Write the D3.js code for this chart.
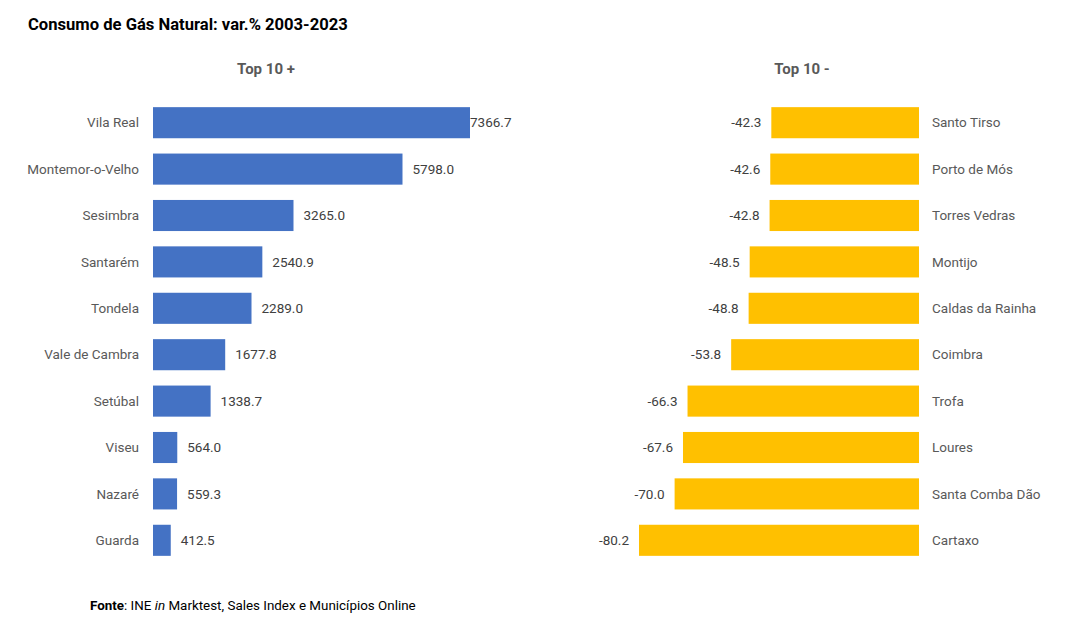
<!DOCTYPE html>
<html>
<head>
<meta charset="utf-8">
<script src="https://cdn.jsdelivr.net/npm/d3@7"></script>
<style>
body{margin:0;background:#fff;}
svg{display:block;font-family:Roboto,"Noto Sans",sans-serif;}
</style>
</head>
<body>
<svg id="chart" width="1068" height="628"></svg>
<script>
const topCategories = ["Vila Real","Montemor-o-Velho","Sesimbra","Santarém","Tondela","Vale de Cambra","Setúbal","Viseu","Nazaré","Guarda"];
const topValues = [7366.7,5798.0,3265.0,2540.9,2289.0,1677.8,1338.7,564.0,559.3,412.5];
const bottomCategories = ["Santo Tirso","Porto de Mós","Torres Vedras","Montijo","Caldas da Rainha","Coimbra","Trofa","Loures","Santa Comba Dão","Cartaxo"];
const bottomValues = [-42.3,-42.6,-42.8,-48.5,-48.8,-53.8,-66.3,-67.6,-70.0,-80.2];

const fmt = d => d3.format(".1f")(d).replace("\u2212","-");
const svg = d3.select("#chart");

svg.append("text").attr("x",28).attr("y",30)
  .attr("font-size",16.6).attr("font-weight","bold").attr("fill","#000")
  .text("Consumo de Gás Natural: var.% 2003-2023");

const y = d3.scaleBand().domain(d3.range(10)).range([99.5,563.5]).paddingInner(0.33).paddingOuter(0.165);

// Left panel
const xL = d3.scaleLinear().domain([0, d3.max(topValues)]).range([153,470]);
svg.append("text").attr("x",266).attr("y",74).attr("text-anchor","middle")
  .attr("font-size",15).attr("font-weight","bold").attr("fill","#595959").text("Top 10 +");
const gL = svg.append("g");
gL.selectAll("rect").data(topValues).join("rect")
  .attr("x",xL(0)).attr("y",(d,i)=>y(i)).attr("width",d=>xL(d)-xL(0)).attr("height",y.bandwidth())
  .attr("fill","#4472C4");
gL.selectAll("text.cat").data(topCategories).join("text").attr("class","cat")
  .attr("x",139).attr("y",(d,i)=>y(i)+y.bandwidth()/2).attr("dy","0.35em")
  .attr("text-anchor","end").attr("font-size",13.5).attr("fill","#595959").text(d=>d);
gL.selectAll("text.val").data(topValues).join("text").attr("class","val")
  .attr("x",(d,i)=> i===0 ? xL(d) : xL(d)+10).attr("y",(d,i)=>y(i)+y.bandwidth()/2).attr("dy","0.35em")
  .attr("font-size",13.5).attr("fill","#404040").text(fmt);

// Right panel
const xR = d3.scaleLinear().domain([d3.min(bottomValues),0]).range([639,919]);
svg.append("text").attr("x",802).attr("y",74).attr("text-anchor","middle")
  .attr("font-size",15).attr("font-weight","bold").attr("fill","#595959").text("Top 10 -");
const gR = svg.append("g");
gR.selectAll("rect").data(bottomValues).join("rect")
  .attr("x",d=>xR(d)).attr("y",(d,i)=>y(i)).attr("width",d=>xR(0)-xR(d)).attr("height",y.bandwidth())
  .attr("fill","#FFC000");
gR.selectAll("text.cat").data(bottomCategories).join("text").attr("class","cat")
  .attr("x",932).attr("y",(d,i)=>y(i)+y.bandwidth()/2).attr("dy","0.35em")
  .attr("font-size",13.5).attr("fill","#595959").text(d=>d);
gR.selectAll("text.val").data(bottomValues).join("text").attr("class","val")
  .attr("x",d=>xR(d)-10).attr("y",(d,i)=>y(i)+y.bandwidth()/2).attr("dy","0.35em")
  .attr("text-anchor","end").attr("font-size",13.5).attr("fill","#404040").text(fmt);

// Footer
const ft = svg.append("text").attr("x",90).attr("y",610).attr("font-size",13.4).attr("fill","#000");
ft.append("tspan").attr("font-weight","bold").text("Fonte");
ft.append("tspan").text(": INE ");
ft.append("tspan").attr("font-style","italic").text("in");
ft.append("tspan").text(" Marktest, Sales Index e Municípios Online");
</script>
</body>
</html>
